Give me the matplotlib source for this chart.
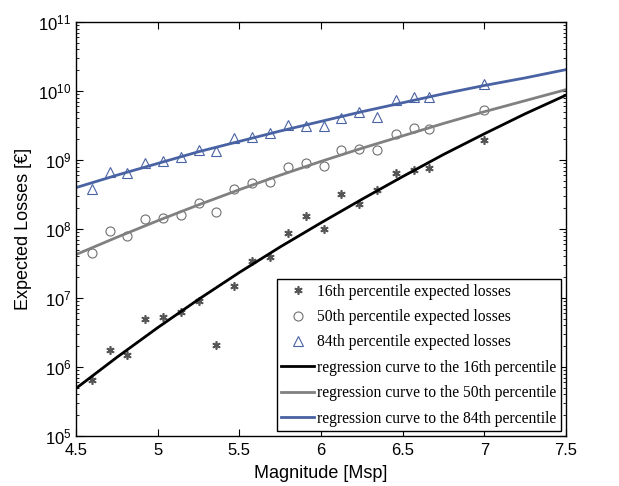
import numpy as np
import matplotlib
matplotlib.use('Agg')
import matplotlib.pyplot as plt
from matplotlib.ticker import LogLocator, FixedLocator, FormatStrFormatter, NullFormatter

"""
DATA (read from the figure)
"""
# Magnitudes of the scenarios
mag = [4.6, 4.71, 4.81, 4.92, 5.03, 5.14, 5.25, 5.36, 5.47, 5.58, 5.69,
       5.8, 5.91, 6.02, 6.12, 6.23, 6.34, 6.46, 6.57, 6.66, 7.0]
# log10 of expected losses
p16_log = [5.81, 6.25, 6.17, 6.69, 6.73, 6.80, 6.96, 6.32, 7.18, 7.54, 7.60,
           7.94, 8.19, 8.00, 8.51, 8.36, 8.56, 8.81, 8.85, 8.88, 9.29]
p50_log = [7.65, 7.97, 7.90, 8.15, 8.16, 8.20, 8.37, 8.25, 8.58, 8.67, 8.68,
           8.90, 8.95, 8.92, 9.14, 9.16, 9.14, 9.37, 9.46, 9.45, 9.73]
p84_log = [8.58, 8.82, 8.81, 8.96, 8.99, 9.04, 9.14, 9.13, 9.32, 9.33, 9.39,
           9.51, 9.49, 9.49, 9.61, 9.69, 9.63, 9.87, 9.92, 9.92, 10.10]

# regression curves
mag_fit = [4.5, 4.75, 5.0, 5.25, 5.5, 5.75, 6.0, 6.25, 6.5, 6.75, 7.0, 7.25, 7.5]
fit16_log = [5.69, 6.14, 6.57, 6.98, 7.37, 7.74, 8.09, 8.43, 8.76, 9.08, 9.38, 9.67, 9.94]
fit50_log = [7.63, 7.88, 8.12, 8.35, 8.57, 8.78, 8.98, 9.17, 9.35, 9.53, 9.70, 9.86, 10.02]
fit84_log = [8.60, 8.78, 8.95, 9.12, 9.27, 9.42, 9.56, 9.70, 9.83, 9.96, 10.08, 10.19, 10.31]

xticks = [4.5, 5, 5.5, 6, 6.5, 7, 7.5]
yticks = [1e5, 1e6, 1e7, 1e8, 1e9, 1e10, 1e11]

"""
PLOT
"""
blue = '#4862a3'
fig = plt.figure(figsize=(6.19, 4.86), dpi=100)
ax = fig.add_axes([0.1228, 0.1029, 0.7916, 0.8518])

ax.plot(mag, 10**np.array(p16_log), linestyle='none', marker=(6, 2, 0), markersize=6,
        mew=1.2, color='#555555', label='16th percentile expected losses')
ax.plot(mag, 10**np.array(p50_log), linestyle='none', marker='o', markersize=6.5,
        mfc='none', mew=0.8, color='#707070', label='50th percentile expected losses')
ax.plot(mag, 10**np.array(p84_log), linestyle='none', marker='^', markersize=7.5,
        mfc='none', mew=0.8, color=blue, label='84th percentile expected losses')
ax.plot(mag_fit, 10**np.array(fit16_log), color='black', lw=2,
        label='regression curve to the 16th percentile')
ax.plot(mag_fit, 10**np.array(fit50_log), color='#808080', lw=2,
        label='regression curve to the 50th percentile')
ax.plot(mag_fit, 10**np.array(fit84_log), color=blue, lw=2,
        label='regression curve to the 84th percentile')

ax.set_yscale('log')
ax.set_xlim(4.5, 7.5)
ax.set_ylim(1e5, 1e11)
ax.xaxis.set_major_locator(FixedLocator(xticks))
ax.xaxis.set_major_formatter(FormatStrFormatter('%g'))
ax.yaxis.set_major_locator(FixedLocator(yticks))
ax.yaxis.set_minor_locator(LogLocator(base=10, subs=np.arange(2, 10), numticks=20))
ax.yaxis.set_minor_formatter(NullFormatter())
ax.tick_params(which='both', direction='in', top=True, right=True, labelsize=12)
ax.tick_params(which='major', length=5, width=0.8)
ax.tick_params(which='minor', length=2.5, width=0.6)
ax.tick_params(axis='x', pad=5)
for lab in ax.get_xticklabels() + ax.get_yticklabels():
    lab.set_family('Liberation Sans')
for s in ax.spines.values():
    s.set_linewidth(1.0)

ax.set_xlabel('Magnitude [Msp]', fontsize=13, family='Liberation Sans', labelpad=5)
ax.set_ylabel('Expected Losses [€]', fontsize=13, family='Liberation Sans')

leg = ax.legend(loc='lower right', prop={'family': 'Liberation Serif', 'size': 11.25},
                fancybox=False, edgecolor='black', framealpha=1, handlelength=2.1,
                handletextpad=0.2, labelspacing=0.6, borderaxespad=0.3, borderpad=0.3)
leg.get_frame().set_linewidth(1.0)

plt.savefig('out.png', dpi=100)
plt.close()
